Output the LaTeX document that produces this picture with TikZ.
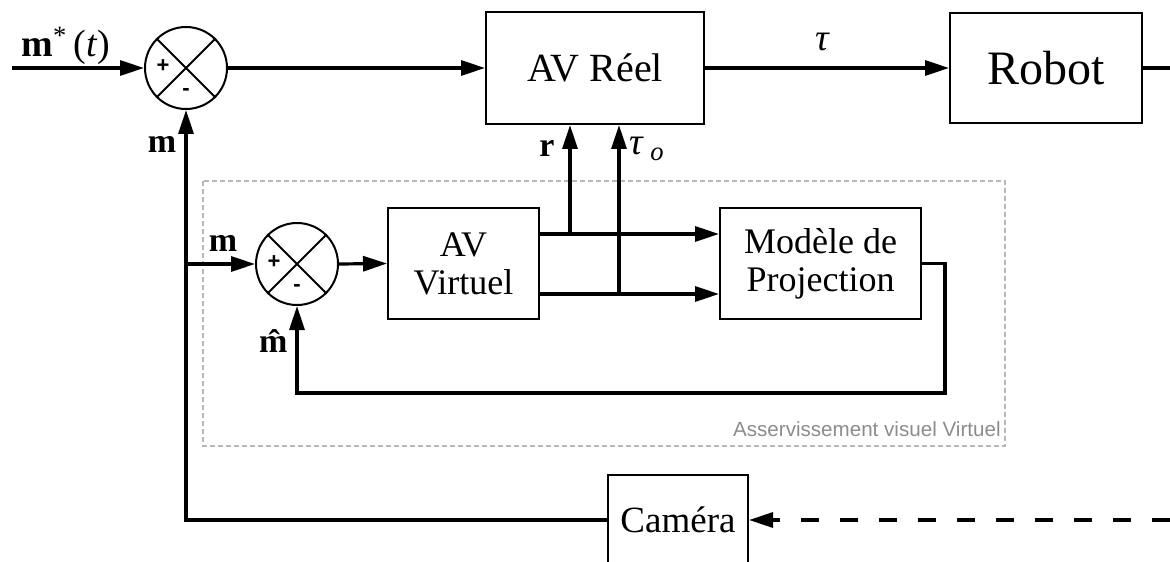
\documentclass[tikz,border=0pt]{standalone}
\usepackage{fontspec}
\setmainfont{Liberation Serif}
\newfontfamily\sansf{Liberation Sans}
\usetikzlibrary{arrows.meta,calc}
\begin{document}
\begin{tikzpicture}[x=0.5pt,y=-0.5pt,
  blk/.style={draw,line width=1pt,inner sep=0pt,align=center},
  sumc/.style={draw,circle,line width=1pt,minimum size=41pt,inner sep=0pt},
  conn/.style={line width=1.6pt},
  arr/.style={conn,-{Triangle[length=12pt,width=7.5pt]}},
  lbl/.style={font=\fontsize{17}{19}\selectfont,inner sep=0pt},
  sgn/.style={font=\sansf\bfseries\fontsize{11}{11}\selectfont,inner sep=0pt},
  grp/.style={draw=black!28,line width=1pt,dash pattern=on 2.5pt off 1.5pt},
  ]
\useasboundingbox (0,0) rectangle (1170,561);
\clip (0,0) rectangle (1170,561);

% group frame
\draw[grp] (203,181) rectangle (1005,446);
\node[font=\sansf\fontsize{10.3}{12}\selectfont,text=black!45,anchor=base east,inner sep=0pt] (glbl) at (1001,436) {Asservissement visuel Virtuel};

% blocks
\node[blk,minimum width=109pt,minimum height=56pt,font=\fontsize{20}{22}\selectfont] (avr) at (595,68) {AV Réel};
\node[blk,minimum width=96pt,minimum height=55pt,font=\fontsize{24}{26}\selectfont] (robot) at (1046,68) {Robot};
\node[blk,minimum width=75.5pt,minimum height=55.5pt,font=\fontsize{18}{19}\selectfont] (avv) at (463.5,263.5) {AV\\Virtuel};
\node[blk,minimum width=100.5pt,minimum height=55.5pt,font=\fontsize{18}{19}\selectfont] (mod) at (820.5,263.5) {Modèle de\\Projection};
\node[blk,minimum width=70pt,minimum height=45pt,font=\fontsize{18.5}{20}\selectfont] (cam) at (678,520) {Caméra};

% summing junctions
\node[sumc] (s1) at (186,68) {};
\node[sumc] (s2) at (297,264) {};
\foreach \s in {s1,s2}{
  \draw[line width=1pt] (\s.north west) -- (\s.south east) (\s.north east) -- (\s.south west);
  \node[sgn] (\s p) at ($(\s)+(-23,-2)$) {+};
  \node[sgn] (\s m) at ($(\s)+(0,24)$) {-};
}

% coordinates
\coordinate (in) at (12,68);
\coordinate (out) at (1170,68);
\coordinate (dashin) at (1170,520);
\coordinate (o1) at ($(avv.east)+(0,-29.5)$);
\coordinate (o2) at ($(avv.east)+(0,30.5)$);
\coordinate (rB) at (570,234);
\coordinate (tB) at (619,294);
\coordinate (fbc) at (945,393);

% connectors
\draw[arr] (in) -- (s1.west);
\draw[arr] (s1.east) -- (avr.west);
\draw[arr] (avr.east) -- (robot.west);
\draw[conn] (robot.east) -- (out);
\draw[arr,dash pattern=on 9pt off 10.5pt] (dashin) -- (cam.east);
\draw[arr] (cam.west) -| (s1.south);
\draw[arr] (s1.south |- s2.west) -- (s2.west);
\draw[arr] (s2.east) -- (avv.west);
\draw[arr] (o1) -- (o1 -| mod.west);
\draw[arr] (o2) -- (o2 -| mod.west);
\draw[arr] (rB) -- (rB |- avr.south);
\draw[arr] (tB) -- (tB |- avr.south);
\draw[arr] (mod.east) -| (fbc) -| (s2.south);

% labels
\node[lbl,font=\fontsize{19}{21}\selectfont] (lms) at (66,46) {\textbf{m}\textsuperscript{*}\,(\textit{t})};
\node[lbl] (lm1) at (162,144) {\textbf{m}};
\node[lbl,font=\fontsize{19}{21}\selectfont] (ltau) at (823,42) {\textit{τ}};
\node[lbl] (lr) at (547,148) {\textbf{r}};
\node[lbl,anchor=west,font=\fontsize{19}{21}\selectfont] (ltauo) at (629,149) {\textit{τ}\,\textsubscript{\textit{o}}};
\node[lbl] (lm2) at (223,243) {\textbf{m}};
\node[lbl] (lmh) at (276,341) {\textbf{\^{m}}};
\end{tikzpicture}
\end{document}
